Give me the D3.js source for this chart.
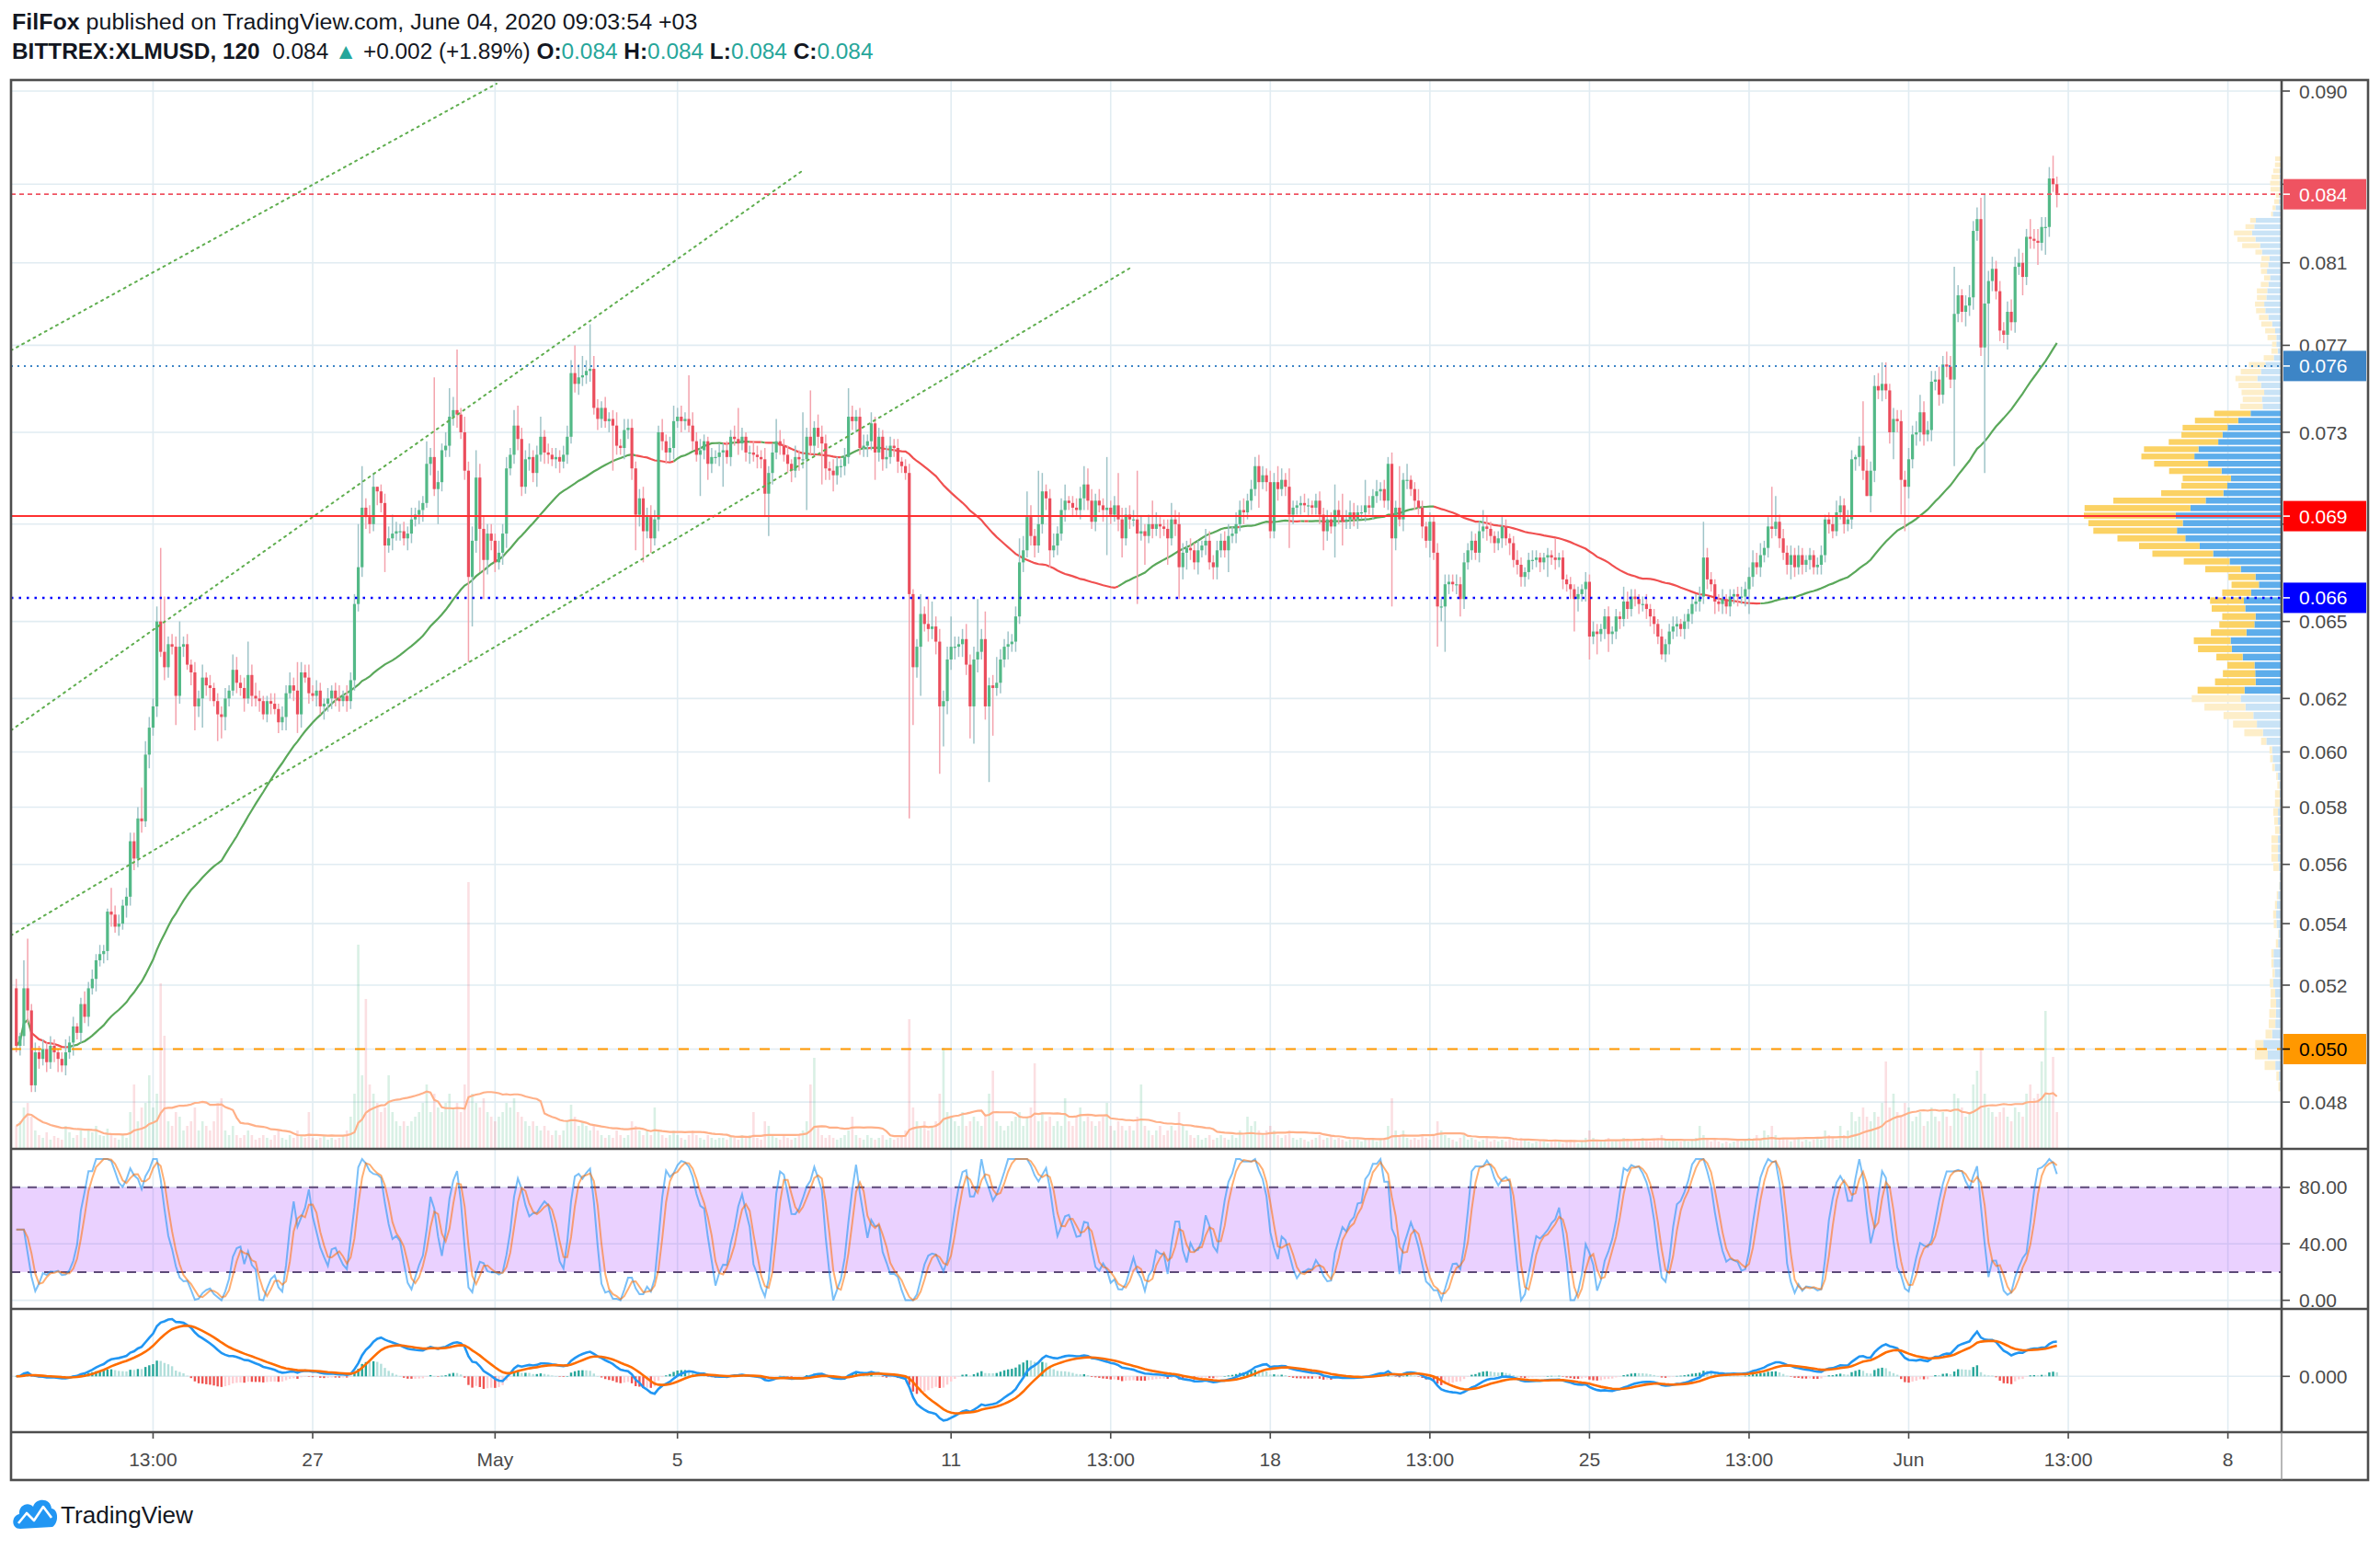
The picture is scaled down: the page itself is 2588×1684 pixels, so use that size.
<!DOCTYPE html>
<html><head><meta charset="utf-8">
<script src="https://cdn.jsdelivr.net/npm/d3@7"></script>
<style>body{margin:0;background:#fff}svg{display:block}</style>
</head><body>
<svg id="c" width="2588" height="1684"></svg>
<script>
// ---------------- DATA (prices in 1e-4 units) ----------------
const firstOpen = 519;
const closes = [
501,504,519,512,489,499,
497,500,496,501,499,497,495,499,502,507,505,514,
510,519,522,528,530,531,544,543,539,540,546,549,
568,562,576,575,599,609,617,650,638,632,641,640,
621,640,641,633,630,617,620,628,625,624,619,614,
613,620,623,631,626,624,620,629,621,620,619,614,
619,618,616,611,613,622,625,623,614,630,628,622,
621,623,617,618,620,623,620,619,621,619,627,657,
672,697,693,690,706,704,699,681,684,686,687,687,
684,686,692,694,696,699,716,719,705,708,722,724,
737,740,738,730,713,668,683,710,688,675,686,683,
674,678,686,714,720,733,727,706,718,719,712,720,
728,721,720,718,719,717,720,728,757,752,755,756,
758,759,741,736,741,735,736,733,724,723,731,732,
714,694,701,687,693,684,692,730,726,721,723,735,
737,735,736,733,726,720,722,726,716,719,719,721,
722,719,728,727,725,728,721,721,720,719,718,703,
712,721,726,724,720,716,713,719,718,718,728,724,
732,728,725,714,713,711,715,715,719,737,735,737,
723,724,726,734,721,728,718,719,724,723,717,715,
712,661,632,640,653,649,647,648,642,617,619,635,
640,640,641,643,633,617,635,638,643,617,625,624,
626,635,640,641,642,652,674,679,693,685,681,690,
704,701,679,681,686,696,700,699,697,696,701,707,
700,691,700,698,696,697,694,698,692,684,694,692,
692,686,687,685,690,688,690,689,688,684,692,690,
672,678,680,679,674,679,681,683,674,672,679,683,
679,685,686,690,696,695,700,705,715,708,711,708,
687,708,705,709,706,694,697,698,699,698,698,697,
700,694,687,692,689,696,693,691,692,695,692,695,
695,698,697,702,704,705,700,716,684,697,692,709,
709,705,700,697,689,683,691,678,656,656,665,666,
665,665,659,674,679,683,678,687,689,688,685,682,
684,689,684,682,675,673,668,670,675,675,676,674,
676,677,676,675,676,667,665,663,659,661,663,666,
644,646,645,647,652,645,646,652,651,658,655,660,
659,657,657,655,652,649,644,637,641,646,648,649,
647,650,653,657,658,660,676,667,665,658,657,659,
656,660,661,660,660,663,668,674,672,677,680,689,
688,691,684,678,673,677,672,677,673,675,677,672,
673,677,692,690,687,695,698,690,692,718,719,724,
713,702,713,751,749,752,749,730,736,735,709,706,
718,729,730,739,729,731,753,754,747,761,760,754,
785,794,786,789,793,826,832,769,790,801,807,796,
777,775,786,781,808,810,803,823,822,821,820,828,
828,853,850,845];

// small wick extents (1e-4 units) above / below the body, one digit per candle
const upWickRows = ["312223","232321242312","423232143323","324354363534","453424352423","342353424532","234243532432","343242352434","554364345343","435343546536","465374636545","354536454634","434343456765","546435346354","434545436354","453564532434","343534235435","343534253545","365435434653","453534354342","342353434545","543464564434","543534563534","434535423453","453536343534","436343533434","543434234343","453545343543","543434323432","343432434543","324353455343","323532424343","343434343432","343234323432","232323232323","343234232343","323423232343","232334543234","232343454534","543434343232","342535434454","454565435454","545454545465","656565654565","545656545465","5654"];
const downWickRows = ["233422","323234232423","232423342324","343425342543","534253434523","453243524342","342435243524","243534342434","345436453534","354345253543","546343755464","435634543546","354345343454","453543534354","545436354545","354343545434","434353453545","353434535434","453543454345","345434543453","353453545345","454545453546","343534343453","454343534345","434353435434","343534353435","453435343453","343435343534","435343434353","343434353434","343534343535","434353535434","343434343534","343534343434","323434343535","434343434343","343434343434","343434343534","343434343434","434343434343","343434345454","454545453545","545454545454","545456545454","545454545454","4545"];
// long wicks: [candle index, price*1e4]
const highFix = [[2,528],[3,535],[25,552],[31,571],[33,587],[38,680],[39,660],[43,650],[57,637],[61,642],[74,634],[77,633],[90,690],[91,715],[93,698],[95,704],[99,694],[108,726],[110,755],[114,750],[116,768],[121,722],[125,690],[131,740],[132,742],[138,737],[147,770],[149,765],[151,780],[152,765],[173,742],[177,756],[190,741],[200,736],[207,739],[209,749],[211,738],[219,750],[226,737],[238,661],[240,660],[241,658],[246,652],[253,659],[255,654],[258,636],[264,684],[266,704],[269,713],[270,712],[276,707],[281,715],[282,714],[287,719],[290,712],[295,713],[299,700],[304,699],[313,688],[322,700],[326,719],[332,715],[333,714],[335,714],[343,704],[347,707],[349,703],[355,709],[361,719],[364,715],[366,716],[386,696],[391,693],[405,684],[413,670],[423,664],[444,691],[462,706],[463,702],[477,695],[484,720],[486,744],[491,762],[492,762],[501,747],[506,760],[510,808],[512,797],[517,843],[518,845],[521,811],[527,817],[530,832],[531,827],[535,859],[536,865]];
const lowFix = [[4,487],[42,610],[47,608],[49,609],[53,604],[54,605],[74,607],[97,670],[111,690],[119,634],[120,648],[122,670],[123,659],[157,713],[163,679],[165,674],[167,678],[180,702],[182,709],[186,706],[197,693],[198,685],[208,696],[212,707],[215,704],[226,709],[235,576],[236,610],[238,621],[243,592],[244,602],[251,605],[252,603],[256,589],[257,606],[272,672],[287,677],[291,676],[295,657],[297,673],[303,673],[306,659],[308,671],[315,667],[319,670],[327,697],[330,684],[335,680],[344,679],[347,676],[349,681],[362,656],[372,676],[374,640],[375,650],[376,638],[380,652],[396,664],[403,668],[410,646],[414,635],[416,637],[419,638],[430,648],[433,635],[449,653],[456,653],[467,667],[479,685],[482,687],[487,704],[488,695],[494,718],[496,694],[497,687],[503,726],[510,715],[513,779],[518,712],[519,760],[523,771],[524,768],[528,794],[532,809],[534,814],[537,838]];

const volumes = [
25,30,45,50,35,20,
15,12,18,10,14,12,10,25,18,12,15,20,
12,20,18,25,15,14,22,15,12,10,15,12,
40,70,30,45,50,80,45,60,180,123,30,25,
40,35,20,25,30,45,20,30,25,20,30,50,
55,20,15,25,15,12,15,20,15,10,12,15,
12,10,15,20,12,10,15,12,20,15,12,40,
12,10,12,15,10,12,10,12,15,20,35,60,
222,80,163,70,60,50,40,45,80,40,30,25,
30,25,30,35,40,50,70,40,60,45,40,50,
60,45,50,40,70,290,60,50,45,55,40,35,
30,35,40,50,45,55,40,35,30,25,30,25,
20,25,20,15,20,15,20,30,48,35,25,30,
25,20,25,20,15,12,15,12,20,15,12,15,
30,25,20,15,20,15,45,20,15,12,15,20,
15,12,10,15,20,15,12,10,15,12,10,12,
12,10,15,12,10,15,12,15,40,12,10,30,
25,15,12,10,15,12,10,12,15,20,30,70,
99,25,15,12,15,12,10,12,15,20,35,15,
12,10,15,12,10,12,15,10,12,10,12,15,
20,141,45,30,25,30,20,25,30,60,110,40,
35,30,25,40,25,30,35,30,25,35,60,85,
30,25,20,25,30,35,40,25,35,45,93,30,
40,30,35,25,30,25,55,30,25,35,45,30,
35,30,25,30,35,50,25,20,30,25,20,25,
20,35,70,25,20,15,20,25,15,20,25,20,
40,25,20,15,12,15,10,12,15,10,12,15,
12,10,15,12,20,15,35,25,30,20,15,20,
25,20,15,12,15,20,12,10,12,10,8,10,
12,15,10,12,15,10,12,10,8,10,12,10,
8,10,12,10,8,10,12,25,55,20,15,20,
12,10,12,10,15,12,10,15,30,20,15,12,
10,8,12,15,10,12,10,8,10,12,8,10,
8,10,8,12,10,8,12,10,8,6,8,10,
8,6,8,10,8,6,8,10,8,6,8,12,
20,12,10,8,10,12,8,10,8,12,10,8,
10,8,12,10,8,10,12,15,10,8,10,8,
8,10,8,10,12,25,15,10,8,10,8,6,
8,6,8,10,8,10,12,10,15,10,20,15,
25,15,10,12,10,8,10,12,8,10,8,10,
12,10,20,15,12,10,25,15,20,40,30,35,
45,35,30,40,35,50,95,45,60,40,35,50,
45,30,35,40,25,30,45,35,30,40,35,25,
60,55,45,35,40,70,85,110,60,45,40,35,
40,45,35,30,45,40,35,60,70,55,60,95,
150,60,100,40];

const firstCandle = "2020-04-20T13:00Z";
const priceTicks = [0.090,0.085,0.081,0.077,0.073,0.069,0.065,0.062,0.060,0.058,0.056,0.054,0.052,0.050,0.0484];
const stochTicks = [80,40,0];
const macdTicks = [0];
const timeTicks = ["2020-04-23T13:00Z","2020-04-27T01:00Z","2020-05-01T01:00Z","2020-05-05T01:00Z","2020-05-11T01:00Z","2020-05-14T13:00Z","2020-05-18T01:00Z","2020-05-21T13:00Z","2020-05-25T01:00Z","2020-05-28T13:00Z","2020-06-01T01:00Z","2020-06-04T13:00Z","2020-06-08T01:00Z"];
const timeLabels = ["13:00","27","May","5","11","13:00","18","13:00","25","13:00","Jun","13:00","8"];
const levelPrices = [0.08448,0.07603,0.06934,0.06595,0.0500];
const levelLabels = ["0.084","0.076","0.069","0.066","0.050"];
const trendLines = [
  ["2020-04-20T10:14Z",0.07676,"2020-05-01T01:48Z",0.09041],
  ["2020-04-20T10:14Z",0.06080,"2020-05-07T19:56Z",0.08579],
  ["2020-04-20T10:14Z",0.05361,"2020-05-15T00:15Z",0.08080]
];
const headerLine1 = [["FilFox",true,null],[" published on TradingView.com, June 04, 2020 09:03:54 +03",false,null]];
const headerLine2 = [["BITTREX:XLMUSD, 120",true,null],["  0.084 ",false,null],["\u25B2",false,"t"],[" +0.002 (+1.89%) ",false,null],["O:",true,null],["0.084",false,"t"],[" H:",true,null],["0.084",false,"t"],[" L:",true,null],["0.084",false,"t"],[" C:",true,null],["0.084",false,"t"]];

// ---------------- LAYOUT ----------------
const L=12, R=2481, RB=2575, TOP=87, MAINB=1249, STB=1423, MACB=1557, BOT=1609;
const FONT='"Liberation Sans", Arial, sans-serif';
const svg=d3.select('#c');
svg.append('rect').attr('width',2588).attr('height',1684).attr('fill','#fff');
const defs=svg.append('defs');
function clip(id,x0,y0,x1,y1){defs.append('clipPath').attr('id',id).append('rect').attr('x',x0).attr('y',y0).attr('width',x1-x0).attr('height',y1-y0);}
clip('cm',L,TOP,R,MAINB);clip('cs',L,MAINB,R,STB);clip('cd',L,STB,R,MACB);

const x=d3.scaleUtc().domain([new Date("2020-04-27T01:00Z"),new Date("2020-06-01T01:00Z")]).range([340,2075.5]);
const y=d3.scaleLog().domain([0.090,0.050]).range([99,1140.5]);
const yVol=d3.scaleLinear().domain([0,300]).range([MAINB,MAINB-300]);
const ySt=d3.scaleLinear().domain([0,100]).range([1413.6,1260.1]);

// ---------------- BUILD CANDLES ----------------
const upW=upWickRows.join('').split('').map(Number);
const dnW=downWickRows.join('').split('').map(Number);
const hf=new Map(highFix), lf=new Map(lowFix);
const t0=new Date(firstCandle).getTime(), H2=7200000;
let prev=firstOpen;
const candles=closes.map((c,i)=>{
  const o=prev; prev=c;
  let h=Math.max(o,c)+(isNaN(upW[i])?3:upW[i]);
  let l=Math.min(o,c)-(isNaN(dnW[i])?3:dnW[i]);
  if(hf.has(i)) h=Math.max(hf.get(i),Math.max(o,c));
  if(lf.has(i)) l=Math.min(lf.get(i),Math.min(o,c));
  return {t:new Date(t0+i*H2),o:o/1e4,h:h/1e4,l:l/1e4,c:c/1e4,v:(volumes[i]!=null?volumes[i]:10)};
});

// indicators derived from the candles
function sma(a,n){return a.map((_,i)=>{const s=Math.max(0,i-n+1);let t=0;for(let k=s;k<=i;k++)t+=a[k];return t/(i-s+1);});}
function ema(a,n){const k=2/(n+1);let e=a[0];return a.map(v=>(e=v*k+e*(1-k)));}
function rma(a,n){let r=a[0];return a.map((v,i)=>i===0?v:(r=(r*(n-1)+v)/n));}
const cl=candles.map(d=>d.c);
const ma=sma(cl,55);
const volMA=sma(candles.map(d=>d.v),20);
// Stochastic RSI (3,3,14,14)
const gains=cl.map((c,i)=>i?Math.max(0,c-cl[i-1]):0), losses=cl.map((c,i)=>i?Math.max(0,cl[i-1]-c):0);
const ag=rma(gains,14), al=rma(losses,14);
const rsi=ag.map((g,i)=>al[i]===0?100:100-100/(1+g/al[i]));
const srsi=rsi.map((r,i)=>{const s=Math.max(0,i-13);const w=rsi.slice(s,i+1);const mn=d3.min(w),mx=d3.max(w);return mx>mn?100*(r-mn)/(mx-mn):50;});
const stK=sma(srsi,3), stD=sma(stK,3);
// MACD (12,26,9)
const e12=ema(cl,12), e26=ema(cl,26);
const macd=cl.map((_,i)=>e12[i]-e26[i]);
const sig=ema(macd,9);
const hist=macd.map((m,i)=>m-sig[i]);
const macdPeak=d3.max(macd.slice(0,120));
const yMd=d3.scaleLinear().domain([0,macdPeak]).range([1496.3,1434]);

// ---------------- GRID ----------------
const grid=svg.append('g').attr('stroke','#e1ecf2').attr('stroke-width',1.6);
timeTicks.forEach(t=>{const xx=x(new Date(t));grid.append('line').attr('x1',xx).attr('x2',xx).attr('y1',TOP).attr('y2',MACB);});
priceTicks.forEach(p=>grid.append('line').attr('x1',L).attr('x2',R).attr('y1',y(p)).attr('y2',y(p)));
stochTicks.forEach(v=>grid.append('line').attr('x1',L).attr('x2',R).attr('y1',ySt(v)).attr('y2',ySt(v)));
macdTicks.forEach(v=>grid.append('line').attr('x1',L).attr('x2',R).attr('y1',yMd(v)).attr('y2',yMd(v)));

// ---------------- MAIN PANE ----------------
const gm=svg.append('g').attr('clip-path','url(#cm)');
// visible range volume profile
const vpRows=118;
const lo=d3.min(candles,d=>d.l), hi=d3.max(candles,d=>d.h), step=(hi-lo)/vpRows;
const rows=d3.range(vpRows).map(()=>({up:0,dn:0}));
candles.forEach(d=>{
  const span=d.h-d.l;
  const r0=Math.max(0,Math.floor((d.l-lo)/step)), r1=Math.min(vpRows-1,Math.floor((d.h-lo)/step));
  for(let r=r0;r<=r1;r++){
    const a=lo+r*step,b=a+step;
    const share=span<1e-9?1/(r1-r0+1):Math.max(0,(Math.min(b,d.h)-Math.max(a,d.l))/span);
    if(d.c>=d.o) rows[r].up+=d.v*share; else rows[r].dn+=d.v*share;
  }
});
const tot=rows.map(r=>r.up+r.dn), total=d3.sum(tot);
const poc=d3.maxIndex(tot);
const inVA=new Array(vpRows).fill(false); inVA[poc]=true;
let acc=tot[poc], a=poc-1, b=poc+1;
while(acc<0.7*total&&(a>=0||b<vpRows)){
  const va=a>=0?tot[a]:-1, vb=b<vpRows?tot[b]:-1;
  if(vb>=va){inVA[b]=true;acc+=vb;b++;}else{inVA[a]=true;acc+=va;a--;}
}
const wS=d3.scaleLinear().domain([0,tot[poc]]).range([0,215]);
rows.forEach((r,i)=>{
  const yt=y(lo+(i+1)*step), yb=y(lo+i*step), hh=Math.max(1,yb-yt-1.6);
  const wu=wS(r.up), wd=wS(r.dn);
  gm.append('rect').attr('x',R-wu).attr('y',yt+0.8).attr('width',wu).attr('height',hh).attr('fill',inVA[i]?'#5dadeb':'#c9e3f6');
  gm.append('rect').attr('x',R-wu-wd).attr('y',yt+0.8).attr('width',wd).attr('height',hh).attr('fill',inVA[i]?'#fbd264':'#fdeec9');
});
// volume bars
candles.forEach(d=>{
  const xx=x(d.t);
  gm.append('rect').attr('x',xx-1.3).attr('width',2.6).attr('y',yVol(d.v)).attr('height',MAINB-yVol(d.v))
    .attr('fill',d.c>=d.o?'rgba(83,185,135,0.22)':'rgba(235,77,92,0.18)');
});
gm.append('path').attr('d',d3.line().x((d,i)=>x(candles[i].t)).y(d=>yVol(d))(volMA))
  .attr('fill','none').attr('stroke','#ffb088').attr('stroke-width',2.2);
// moving average, coloured by slope
let seg=[], segCol=null;
function flush(){if(seg.length>1)gm.append('path').attr('d',d3.line()(seg)).attr('fill','none').attr('stroke',segCol).attr('stroke-width',2.2);}
ma.forEach((m,i)=>{
  const col=(i===0||m>=ma[i-1])?'#5aa85a':'#f05050';
  const pt=[x(candles[i].t),y(m)];
  if(col!==segCol){ if(seg.length){seg.push(pt);flush();seg=[pt];} else seg=[pt]; segCol=col; }
  else seg.push(pt);
});
flush();
// candles
candles.forEach(d=>{
  const xx=x(d.t), up=d.c>=d.o;
  gm.append('line').attr('x1',xx).attr('x2',xx).attr('y1',y(d.h)).attr('y2',y(d.l))
    .attr('stroke',up?'#9fc4c8':'#f4a3ad').attr('stroke-width',1.5);
  const y1=y(Math.max(d.o,d.c)), y2=y(Math.min(d.o,d.c));
  gm.append('rect').attr('x',xx-1.6).attr('width',3.2).attr('y',y1).attr('height',Math.max(1.2,y2-y1))
    .attr('fill',up?'#53b987':'#eb4d5c');
});
// drawings
trendLines.forEach(t=>{
  gm.append('line').attr('x1',x(new Date(t[0]))).attr('y1',y(t[1])).attr('x2',x(new Date(t[2]))).attr('y2',y(t[3]))
    .attr('stroke','#5fae4f').attr('stroke-width',2).attr('stroke-dasharray','2,5').attr('stroke-linecap','round');
});
const levelStyle=[
  {s:'#ef5361',d:'5,4',w:1.8,bg:'#ef5361',fg:'#fff'},
  {s:'#3d85c6',d:'2,5',w:2,bg:'#3d85c6',fg:'#fff'},
  {s:'#ff3030',d:null,w:2,bg:'#ff0000',fg:'#fff'},
  {s:'#0000ff',d:'2.5,6',w:2.5,bg:'#0000ff',fg:'#fff'},
  {s:'#ff9800',d:'11,11',w:2,bg:'#ff9800',fg:'#000'}];
levelPrices.forEach((p,i)=>{
  const st=levelStyle[i];
  const ln=gm.append('line').attr('x1',L).attr('x2',R).attr('y1',y(p)).attr('y2',y(p)).attr('stroke',st.s).attr('stroke-width',st.w);
  if(st.d) ln.attr('stroke-dasharray',st.d);
});

// ---------------- STOCH PANE ----------------
const gs=svg.append('g').attr('clip-path','url(#cs)');
gs.append('rect').attr('x',L).attr('width',R-L).attr('y',ySt(80)).attr('height',ySt(20)-ySt(80)).attr('fill','rgba(156,39,255,0.21)');
[80,20].forEach(v=>gs.append('line').attr('x1',L).attr('x2',R).attr('y1',ySt(v)).attr('y2',ySt(v))
  .attr('stroke','#5e4a78').attr('stroke-width',2).attr('stroke-dasharray','10,8'));
const stLine=d3.line().x((d,i)=>x(candles[i].t)).y(d=>ySt(Math.max(0,Math.min(100,d))));
gs.append('path').attr('d',stLine(stK)).attr('fill','none').attr('stroke','rgba(33,150,243,0.6)').attr('stroke-width',2);
gs.append('path').attr('d',stLine(stD)).attr('fill','none').attr('stroke','rgba(255,109,0,0.55)').attr('stroke-width',2);

// ---------------- MACD PANE ----------------
const gd=svg.append('g').attr('clip-path','url(#cd)');
hist.forEach((h,i)=>{
  const p=i>0?hist[i-1]:h;
  const col=h>=0?(h>=p?'#26a69a':'#b2dfdb'):(h<p?'#ef5350':'#ffcdd2');
  const xx=x(candles[i].t), y0=yMd(0), y1=yMd(h);
  gd.append('rect').attr('x',xx-1.2).attr('width',2.4).attr('y',Math.min(y0,y1)).attr('height',Math.max(0.5,Math.abs(y1-y0))).attr('fill',col);
});
const mdLine=d3.line().x((d,i)=>x(candles[i].t)).y(d=>yMd(d));
gd.append('path').attr('d',mdLine(macd)).attr('fill','none').attr('stroke','#2196f3').attr('stroke-width',2.6);
gd.append('path').attr('d',mdLine(sig)).attr('fill','none').attr('stroke','#ff6d00').attr('stroke-width',2.6);

// ---------------- AXES & FRAME ----------------
const ax=svg.append('g').attr('font-family',FONT).attr('font-size',21).attr('fill','#4a4a4a');
const levelYs=levelPrices.map(p=>y(p));
function rightTicks(vals,sc,fmt,avoid){
  vals.forEach(v=>{
    const yy=sc(v);
    ax.append('line').attr('x1',R).attr('x2',R+9).attr('y1',yy).attr('y2',yy).attr('stroke','#4a4a4a').attr('stroke-width',1.6);
    if(avoid && levelYs.some(ly=>Math.abs(ly-yy)<14)) return; // label hidden behind a price-line label
    ax.append('text').attr('x',2500).attr('y',yy).attr('dy','0.36em').text(fmt(v));
  });
}
rightTicks(priceTicks,y,d3.format('.3f'),true);
rightTicks(stochTicks,ySt,d3.format('.2f'),false);
rightTicks(macdTicks,yMd,d3.format('.3f'),false);
levelPrices.forEach((p,i)=>{
  const st=levelStyle[i], yy=y(p);
  ax.append('rect').attr('x',R+2).attr('y',yy-16.5).attr('width',RB-R-4).attr('height',33).attr('fill',st.bg);
  ax.append('line').attr('x1',R).attr('x2',R+9).attr('y1',yy).attr('y2',yy).attr('stroke',st.fg).attr('stroke-width',1.6);
  ax.append('text').attr('x',2500).attr('y',yy).attr('dy','0.36em').attr('fill',st.fg).text(levelLabels[i]);
});
timeTicks.forEach((t,i)=>{
  const xx=x(new Date(t));
  ax.append('line').attr('x1',xx).attr('x2',xx).attr('y1',MACB).attr('y2',MACB+7).attr('stroke','#4a4a4a').attr('stroke-width',1.6);
  ax.append('text').attr('x',xx).attr('y',1586).attr('dy','0.36em').attr('text-anchor','middle').text(timeLabels[i]);
});
const fr=svg.append('g').attr('stroke','#4d4d4d').attr('fill','none');
fr.append('rect').attr('x',L).attr('y',TOP).attr('width',RB-L).attr('height',BOT-TOP).attr('stroke-width',2.6);
[MAINB,STB,MACB].forEach(v=>fr.append('line').attr('x1',L).attr('x2',RB).attr('y1',v).attr('y2',v).attr('stroke-width',2.6));
fr.append('line').attr('x1',R).attr('x2',R).attr('y1',TOP).attr('y2',MACB).attr('stroke-width',2.6);
fr.append('line').attr('x1',R).attr('x2',R).attr('y1',MACB).attr('y2',BOT).attr('stroke-width',1.2).attr('stroke','#888');

// ---------------- HEADER ----------------
function header(parts,x0,yb,target){
  const g=svg.append('g');
  const t=g.append('text').attr('font-family',FONT).attr('font-size',24).attr('fill','#131722').attr('xml:space','preserve');
  parts.forEach(p=>{t.append('tspan').attr('font-weight',p[1]?'bold':'normal').attr('fill',p[2]==='t'?'#26a69a':'#131722').text(p[0]);});
  const len=t.node().getComputedTextLength();
  g.attr('transform',`translate(${x0},${yb}) scale(${target/len},1)`);
}
header(headerLine1,13,32,746);
header(headerLine2,13,64,937);

// ---------------- LOGO ----------------
const lg=svg.append('g');
lg.append('path').attr('fill','#2196f3')
  .attr('d','M22,1662 C12,1662 12,1648 21,1646 C20,1636 31,1632 36,1638 C39,1628 55,1628 56,1640 C64,1641 64,1656 57,1660 Z');
lg.append('path').attr('fill','none').attr('stroke','#fff').attr('stroke-width',2.6).attr('stroke-linejoin','round')
  .attr('d','M20,1656 L29,1645 L37,1653 L47,1638 L56,1650');
const lt=lg.append('text').attr('font-family',FONT).attr('font-size',25).attr('fill','#131722').text('TradingView');
const ll=lt.node().getComputedTextLength();
lt.attr('transform',`translate(66,1656) scale(${144/ll},1)`);
</script>
</body></html>
